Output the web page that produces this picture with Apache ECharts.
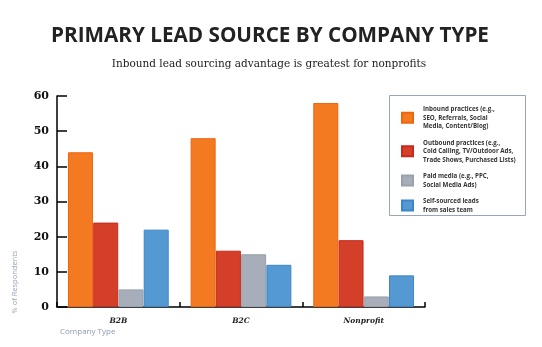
<!DOCTYPE html>
<html><head><meta charset="utf-8">
<script src="https://cdn.jsdelivr.net/npm/echarts@6/dist/echarts.min.js"></script>
<style>html,body{margin:0;padding:0;background:#fff}#c{width:542px;height:347px}</style>
</head><body><div id="c"></div>
<script>
const categories = ['B2B', 'B2C', 'Nonprofit'];
const seriesNames = [
  'Inbound practices (e.g.,\nSEO, Referrals, Social\nMedia, Content/Blog)',
  'Outbound practices (e.g.,\nCold Calling, TV/Outdoor Ads,\nTrade Shows, Purchased Lists)',
  'Paid media (e.g., PPC,\nSocial Media Ads)',
  'Self-sourced leads\nfrom sales team'
];
const inbound = [44, 48, 58];
const outbound = [24, 16, 19];
const paid = [5, 15, 3];
const selfSourced = [22, 12, 9];
const yTicks = [0, 10, 20, 30, 40, 50, 60];

const colors = ['#F47A22', '#D43F2A', '#A7AEB9', '#5599D3'];
const borders = ['#EE6510', '#C9281A', '#98A1AD', '#3D85C8'];
const values = [inbound, outbound, paid, selfSourced];

const chart = echarts.init(document.getElementById('c'));
chart.setOption({
  animation: false,
  title: [{
    text: 'PRIMARY LEAD SOURCE BY COMPANY TYPE',
    left: 265, top: 21, textAlign: 'center',
    textStyle: {fontFamily: 'Open Sans', fontWeight: 'bold', fontSize: 20.7, color: '#222'}
  }, {
    text: 'Inbound lead sourcing advantage is greatest for nonprofits',
    left: 264, top: 54, textAlign: 'center',
    textStyle: {fontFamily: 'DejaVu Serif', fontWeight: 'normal', fontSize: 10.5, color: '#222'}
  }],
  grid: {left: 57, right: 117, top: 96, bottom: 40},
  legend: {
    orient: 'vertical', left: 396, top: 100,
    itemWidth: 11, itemHeight: 10, itemGap: 8,
    icon: 'rect',
    data: seriesNames,
    textStyle: {fontFamily: 'Open Sans', fontWeight: 'bold', fontSize: 6.2, lineHeight: 8.5, color: '#333', padding: [0, 0, 0, 5]}
  },
  graphic: [{
    type: 'rect', shape: {x: 389.5, y: 95.5, width: 136, height: 120},
    style: {fill: 'none', stroke: '#9AA6B8', lineWidth: 1}, z: -1
  }, {
    type: 'text', left: 60, top: 328,
    style: {text: 'Company Type', fontFamily: 'Open Sans', fontSize: 8, fill: '#8C9AB3'}
  }, {
    type: 'text', rotation: Math.PI / 2, x: 15, y: 282, originX: 0, originY: 0,
    style: {text: '% of Respondents', fontFamily: 'Open Sans', fontSize: 7.5, fill: '#9AA3B3', align: 'center', verticalAlign: 'middle'}
  }],
  xAxis: {
    type: 'category', data: categories,
    axisLine: {lineStyle: {color: '#000', width: 1.5}},
    axisTick: {show: true, inside: true, length: 5, lineStyle: {color: '#000', width: 1.5}},
    axisLabel: {fontFamily: 'DejaVu Serif', fontStyle: 'italic', fontWeight: 'bold', fontSize: 7.5, color: '#222', margin: 10}
  },
  yAxis: {
    type: 'value', min: 0, max: 60, interval: 10,
    axisLine: {show: true, lineStyle: {color: '#000', width: 1.5}},
    axisTick: {show: true, inside: true, length: 10, lineStyle: {color: '#000', width: 1.5}},
    splitLine: {show: false},
    axisLabel: {fontFamily: 'DejaVu Serif', fontWeight: 'bold', fontSize: 11, color: '#111', margin: 8,
      formatter: v => yTicks.includes(v) ? String(v) : ''}
  },
  series: seriesNames.map((n, i) => ({
    name: n, type: 'bar', data: values[i],
    barWidth: 25, barGap: '1%',
    itemStyle: {color: colors[i], borderColor: borders[i], borderWidth: 1}
  }))
});
</script></body></html>
